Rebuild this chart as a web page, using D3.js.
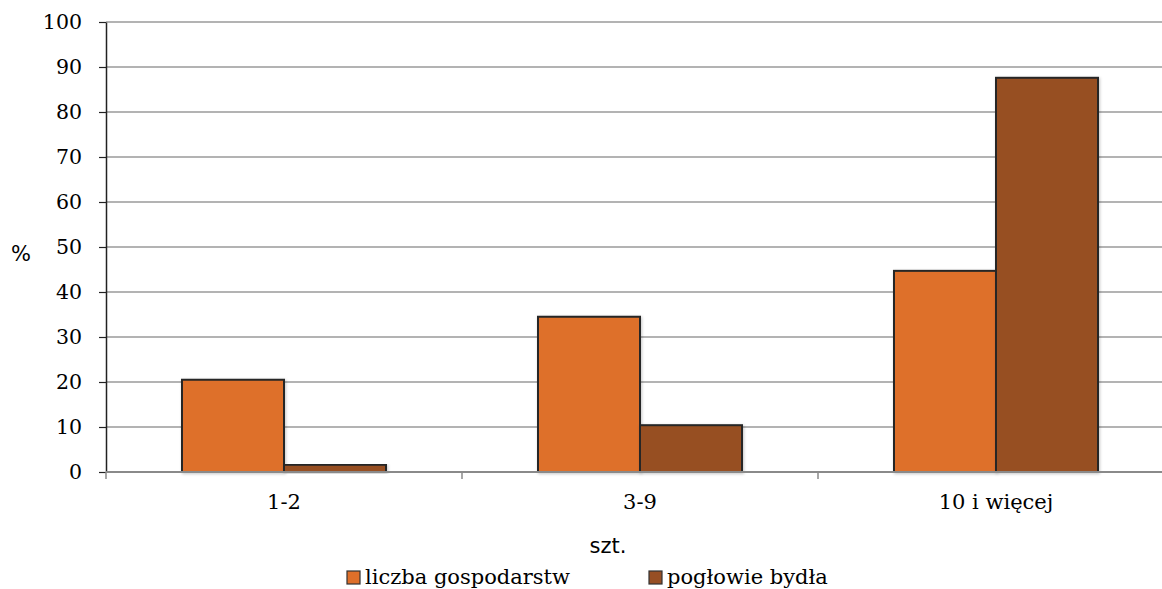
<!DOCTYPE html>
<html>
<head>
<meta charset="utf-8">
<script src="https://cdn.jsdelivr.net/npm/d3@7"></script>
<style>
  body { margin: 0; background: #fff; }
  svg { display: block; }
</style>
</head>
<body>
<div id="chart"></div>
<script>
// data
let categories = ["1-2", "3-9", "10 i więcej"];
let seriesNames = ["liczba gospodarstw", "pogłowie bydła"];
let seriesColors = ["#DE6F2A", "#974F24"];
let liczbaGospodarstw = [20.5, 34.5, 44.7];
let poglowieBydla = [1.6, 10.4, 87.6];
let yTicks = [0, 10, 20, 30, 40, 50, 60, 70, 80, 90, 100];

let serifFont = "DejaVu Serif";
let sansFont = "DejaVu Sans";

let rows = categories.map(function (c, i) {
    return { cat: c, values: [liczbaGospodarstw[i], poglowieBydla[i]] };
});

let width = 1162, height = 589;
let margin = { top: 22, right: -12, bottom: 117, left: 106 };
let innerW = width - margin.left - margin.right,
    innerH = height - margin.top - margin.bottom;

let svg = d3.select("#chart").append("svg")
    .attr("width", width)
    .attr("height", height);

let defs = svg.append("defs");
let shadow = defs.append("filter").attr("id", "shadow")
    .attr("x", "-10%").attr("y", "-10%").attr("width", "130%").attr("height", "130%");
shadow.append("feDropShadow")
    .attr("dx", 1).attr("dy", 1).attr("stdDeviation", 1.5)
    .attr("flood-color", "#000").attr("flood-opacity", 0.22);

let g = svg.append("g")
    .attr("transform", "translate(" + margin.left + "," + margin.top + ")");

let x0 = d3.scaleBand()
    .domain(categories)
    .range([0, innerW])
    .padding(0);

let x1 = d3.scaleBand()
    .domain([0, 1])
    .range([0, x0.bandwidth()])
    .paddingInner(0)
    .paddingOuter(0.745);

let y = d3.scaleLinear()
    .domain([0, 100])
    .range([innerH, 0]);

// gridlines
g.selectAll(".grid")
    .data(yTicks.filter(function (d) { return d > 0; }))
    .enter().append("line")
    .attr("class", "grid")
    .attr("x1", 0)
    .attr("x2", 1162 - margin.left)
    .attr("y1", function (d) { return y(d); })
    .attr("y2", function (d) { return y(d); })
    .attr("stroke", "#9a9a9a")
    .attr("stroke-width", 1.5);

// y axis
let yAxis = g.append("g")
    .call(d3.axisLeft(y).tickValues(yTicks).tickSize(7).tickPadding(17).tickSizeOuter(0))
    .attr("font-family", serifFont)
    .attr("font-size", 20.5);
yAxis.select(".domain").attr("stroke", "#222").attr("stroke-width", 1.5);
yAxis.selectAll(".tick line").attr("stroke", "#222").attr("stroke-width", 1.2);
yAxis.selectAll("text").attr("fill", "#000");

// bars
let groups = g.selectAll(".cat")
    .data(rows)
    .enter().append("g")
    .attr("class", "cat")
    .attr("transform", function (d) { return "translate(" + x0(d.cat) + ",0)"; });

groups.selectAll("rect")
    .data(function (d) { return d.values.map(function (v, i) { return { i: i, v: v }; }); })
    .enter().append("rect")
    .attr("x", function (d) { return x1(d.i); })
    .attr("y", function (d) { return y(d.v); })
    .attr("width", x1.bandwidth())
    .attr("height", function (d) { return innerH - y(d.v); })
    .attr("fill", function (d) { return seriesColors[d.i]; })
    .attr("stroke", "#262626")
    .attr("stroke-width", 2)
    .attr("filter", "url(#shadow)");

// x axis
g.append("line")
    .attr("x1", 0).attr("x2", 1162 - margin.left)
    .attr("y1", innerH).attr("y2", innerH)
    .attr("stroke", "#8a8a8a")
    .attr("stroke-width", 2);

g.selectAll(".xtick")
    .data(categories)
    .enter().append("line")
    .attr("class", "xtick")
    .attr("x1", function (d) { return x0(d); })
    .attr("x2", function (d) { return x0(d); })
    .attr("y1", innerH)
    .attr("y2", innerH + 7)
    .attr("stroke", "#8a8a8a")
    .attr("stroke-width", 1.5);

g.selectAll(".xlabel")
    .data(categories)
    .enter().append("text")
    .attr("class", "xlabel")
    .attr("x", function (d) { return x0(d) + x0.bandwidth() / 2; })
    .attr("y", innerH + 37)
    .attr("text-anchor", "middle")
    .attr("font-family", serifFont)
    .attr("font-size", 21)
    .text(function (d) { return d; });

// axis titles
svg.append("text")
    .attr("x", 21).attr("y", 261)
    .attr("text-anchor", "middle")
    .attr("font-family", sansFont)
    .attr("font-size", 21)
    .text("%");

svg.append("text")
    .attr("x", 608).attr("y", 553)
    .attr("text-anchor", "middle")
    .attr("font-family", sansFont)
    .attr("font-size", 21)
    .text("szt.");

// legend
let legendX = [347, 649];
let legend = svg.selectAll(".legend")
    .data(seriesNames)
    .enter().append("g")
    .attr("class", "legend")
    .attr("transform", function (d, i) { return "translate(" + legendX[i] + ",570)"; });

legend.append("rect")
    .attr("x", 0).attr("y", 1)
    .attr("width", 13).attr("height", 13)
    .attr("fill", function (d, i) { return seriesColors[i]; })
    .attr("stroke", "#333")
    .attr("stroke-width", 1.2);

legend.append("text")
    .attr("x", 18).attr("y", 14)
    .attr("font-family", serifFont)
    .attr("font-size", 21)
    .text(function (d) { return d; });
</script>
</body>
</html>
